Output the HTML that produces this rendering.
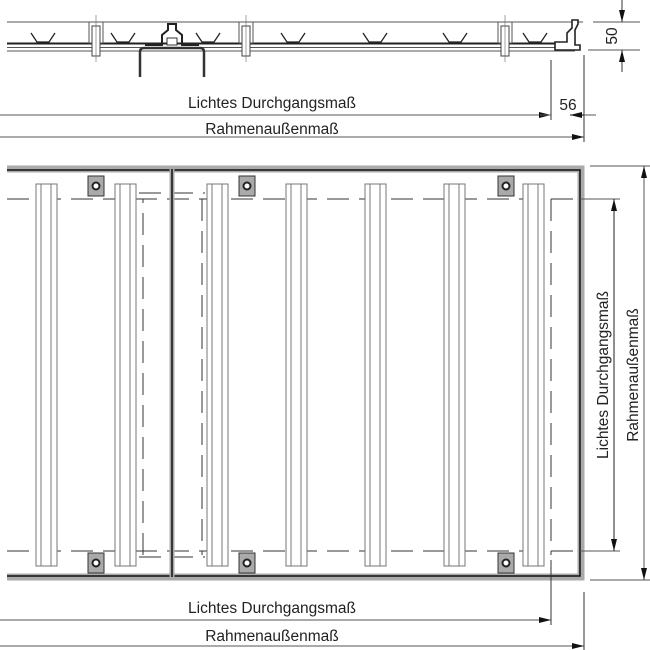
<!DOCTYPE html>
<html><head><style>body{margin:0;background:#fff}svg{display:block}text{font-family:"Liberation Sans",sans-serif;font-size:15.5px;fill:#222}</style></head>
<body>
<svg width="650" height="650" viewBox="0 0 650 650" xmlns="http://www.w3.org/2000/svg">
<defs>
<marker id="a" viewBox="0 0 12 6" refX="12" refY="3" markerWidth="12" markerHeight="6" orient="auto-start-reverse" markerUnits="userSpaceOnUse"><path d="M0,0L12,3L0,6z" fill="#111"/></marker>
<g id="v"><path d="M-9,-9L-3,0H9L15,-9" fill="none" stroke="#222" stroke-width="1.3"/></g>
<g id="bar"><rect x="0" y="184" width="21" height="382" fill="#fff" stroke="#777" stroke-width="1"/><line x1="5" y1="184" x2="5" y2="566" stroke="#777"/><line x1="15" y1="184" x2="15" y2="566" stroke="#777"/></g>
<g id="clip"><rect x="0" y="0" width="16" height="20" fill="#aaa" stroke="#333" stroke-width="1"/><circle cx="8" cy="10" r="3.5" fill="#fff" stroke="#222" stroke-width="2"/></g>
<g id="bolt"><rect x="-7" y="22" width="14" height="21" fill="#fff" stroke="#555"/><rect x="-4" y="26" width="8" height="30" fill="#fff" stroke="#444"/><line x1="0" y1="15" x2="0" y2="62" stroke="#666" stroke-width=".6"/></g>
</defs>
<!-- TOP SECTION -->
<line x1="7" y1="22" x2="583" y2="22" stroke="#555" stroke-width="1"/>
<line x1="7" y1="43.5" x2="575" y2="43.5" stroke="#222" stroke-width="2"/>
<line x1="7" y1="47.5" x2="575" y2="47.5" stroke="#555"/>
<line x1="7" y1="51" x2="575" y2="51" stroke="#555"/>
<use href="#v" x="40" y="42"/><use href="#v" x="120" y="42"/><use href="#v" x="205" y="42"/><use href="#v" x="290" y="42"/><use href="#v" x="372" y="42"/><use href="#v" x="452" y="42"/><use href="#v" x="532" y="42"/>
<use href="#bolt" x="96"/><use href="#bolt" x="246"/><use href="#bolt" x="505"/>
<path d="M140,77V52Q140,48 144,48H200Q204,48 204,52V77" fill="none" stroke="#333" stroke-width="2.5"/>
<path d="M145,45H162V35L168,30V24L176,24L176,30L182,35V45H199" fill="none" stroke="#222" stroke-width="2"/>
<rect x="167" y="38" width="10" height="7" fill="#fff" stroke="#333"/>
<path d="M555,50H580V45H575V30L578,24V20H572V28L567,33V42H555z" fill="#fff" stroke="#222" stroke-width="1.6"/>
<!-- top dims -->
<line x1="551" y1="60" x2="551" y2="120" stroke="#333"/>
<line x1="584" y1="55" x2="584" y2="142" stroke="#333"/>
<line x1="0" y1="115" x2="551" y2="115" stroke="#555" marker-end="url(#a)"/>
<line x1="584" y1="115" x2="596" y2="115" stroke="#555"/>
<line x1="551" y1="115" x2="540" y2="115" stroke="#555"/>
<line x1="584" y1="115" x2="570" y2="115" stroke="#111" marker-end="url(#a)"/>
<line x1="0" y1="137" x2="584" y2="137" stroke="#555" marker-end="url(#a)"/>
<text x="272" y="108" text-anchor="middle">Lichtes Durchgangsmaß</text>
<text x="272" y="134" text-anchor="middle">Rahmenaußenmaß</text>
<text x="568" y="110" text-anchor="middle">56</text>
<line x1="593" y1="22" x2="640" y2="22" stroke="#555"/>
<line x1="588" y1="50" x2="640" y2="50" stroke="#555"/>
<line x1="622" y1="0" x2="622" y2="22" stroke="#333" marker-end="url(#a)"/>
<line x1="622" y1="72" x2="622" y2="50" stroke="#333" marker-end="url(#a)"/>
<text transform="translate(617,36) rotate(-90)" text-anchor="middle">50</text>
<!-- PLAN -->
<g fill="none" stroke-dasharray="22,10" stroke="#333" stroke-width="1">
<line x1="7" y1="199" x2="584" y2="199"/>
<line x1="7" y1="551" x2="584" y2="551"/>
<path d="M143,555V199M139,193H205M202,199V555M139,557H205"/>
<line x1="551" y1="199" x2="551" y2="555"/>
</g>
<use href="#bar" x="36"/><use href="#bar" x="115"/><use href="#bar" x="207"/><use href="#bar" x="286"/><use href="#bar" x="365"/><use href="#bar" x="444"/><use href="#bar" x="523"/>
<!-- frame -->
<path d="M7,169H581V577H7" fill="none" stroke="#aaa" stroke-width="7"/>
<path d="M7,170H580V576H7" fill="none" stroke="#111" stroke-width="1.5"/>
<line x1="172" y1="169" x2="172" y2="577" stroke="#aaa" stroke-width="5"/>
<line x1="172" y1="169" x2="172" y2="577" stroke="#111" stroke-width="1.5"/>
<use href="#clip" x="88" y="176"/><use href="#clip" x="239" y="176"/><use href="#clip" x="498" y="176"/>
<use href="#clip" x="88" y="553"/><use href="#clip" x="239" y="553"/><use href="#clip" x="498" y="553"/>
<!-- right dims -->
<line x1="590" y1="166" x2="650" y2="166" stroke="#555"/>
<line x1="590" y1="580" x2="650" y2="580" stroke="#555"/>
<line x1="580" y1="199" x2="620" y2="199" stroke="#555"/>
<line x1="580" y1="551" x2="620" y2="551" stroke="#555"/>
<line x1="614" y1="375" x2="614" y2="199" stroke="#222" marker-end="url(#a)"/>
<line x1="614" y1="375" x2="614" y2="551" stroke="#222" marker-end="url(#a)"/>
<line x1="644" y1="375" x2="644" y2="166" stroke="#555" marker-end="url(#a)"/>
<line x1="644" y1="375" x2="644" y2="580" stroke="#555" marker-end="url(#a)"/>
<text transform="translate(608,375) rotate(-90)" text-anchor="middle">Lichtes Durchgangsmaß</text>
<text transform="translate(638,375) rotate(-90)" text-anchor="middle">Rahmenaußenmaß</text>
<!-- bottom dims -->
<line x1="551" y1="560" x2="551" y2="625" stroke="#333"/>
<line x1="584" y1="592" x2="584" y2="650" stroke="#333"/>
<line x1="0" y1="620" x2="551" y2="620" stroke="#555" marker-end="url(#a)"/>
<line x1="0" y1="646" x2="584" y2="646" stroke="#555" marker-end="url(#a)"/>
<text x="272" y="613" text-anchor="middle">Lichtes Durchgangsmaß</text>
<text x="272" y="641" text-anchor="middle">Rahmenaußenmaß</text>
</svg>
</body></html>
